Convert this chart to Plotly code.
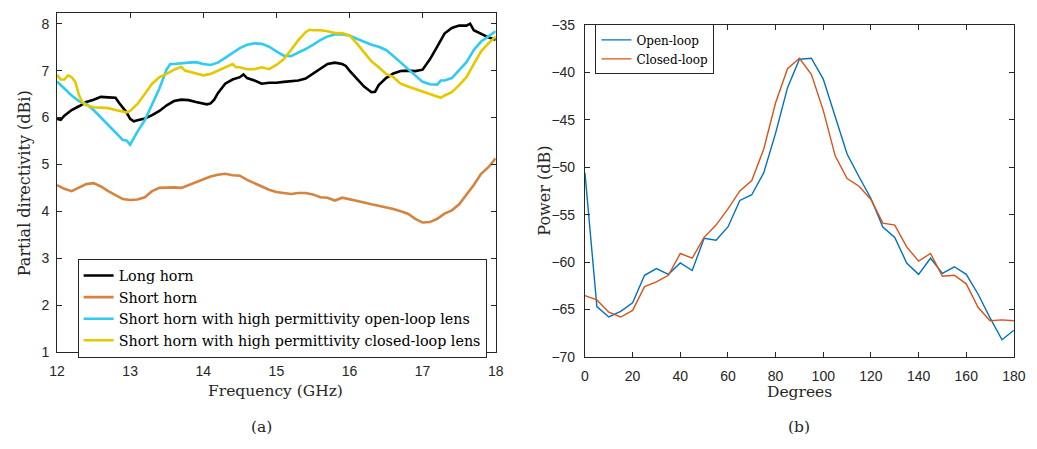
import plotly.graph_objects as go

# ---- (a) partial directivity vs frequency ----
freq_long = [12.0, 12.05, 12.1, 12.2, 12.3, 12.4, 12.5, 12.6, 12.7, 12.8, 12.85, 12.9, 12.95,
             13.0, 13.05, 13.1, 13.2, 13.3, 13.4, 13.5, 13.6, 13.7, 13.8, 13.9, 14.0, 14.05,
             14.1, 14.15, 14.2, 14.3, 14.4, 14.5, 14.55, 14.6, 14.7, 14.8, 14.9, 15.0, 15.1,
             15.2, 15.3, 15.4, 15.5, 15.6, 15.7, 15.8, 15.9, 15.95, 16.0, 16.1, 16.2, 16.3,
             16.35, 16.4, 16.5, 16.6, 16.7, 16.8, 16.9, 17.0, 17.05, 17.1, 17.2, 17.3, 17.4,
             17.5, 17.6, 17.65, 17.7, 17.8, 17.9, 18.0]
long_horn = [5.97, 5.95, 6.04, 6.16, 6.24, 6.33, 6.38, 6.44, 6.43, 6.42, 6.31, 6.21, 6.11,
             5.97, 5.92, 5.94, 5.98, 6.05, 6.14, 6.26, 6.35, 6.38, 6.37, 6.33, 6.29, 6.28,
             6.30, 6.38, 6.52, 6.72, 6.81, 6.86, 6.92, 6.84, 6.79, 6.72, 6.74, 6.74, 6.76,
             6.78, 6.79, 6.83, 6.93, 7.03, 7.14, 7.17, 7.14, 7.10, 7.00, 6.83, 6.66, 6.54,
             6.55, 6.69, 6.84, 6.94, 6.99, 7.00, 6.99, 7.02, 7.14, 7.24, 7.51, 7.79, 7.91,
             7.96, 7.96, 8.00, 7.86, 7.79, 7.71, 7.66]

freq_short = [12.0, 12.1, 12.2, 12.3, 12.4, 12.5, 12.6, 12.7, 12.8, 12.9, 13.0, 13.1, 13.2,
              13.3, 13.4, 13.5, 13.6, 13.7, 13.8, 13.9, 14.0, 14.1, 14.2, 14.3, 14.4, 14.5,
              14.6, 14.7, 14.8, 14.9, 15.0, 15.1, 15.2, 15.3, 15.4, 15.5, 15.6, 15.7, 15.8,
              15.9, 16.0, 16.1, 16.2, 16.3, 16.4, 16.5, 16.6, 16.7, 16.8, 16.9, 17.0, 17.1,
              17.2, 17.3, 17.4, 17.5, 17.6, 17.7, 17.8, 17.9, 18.0]
short_horn = [4.56, 4.48, 4.43, 4.50, 4.58, 4.60, 4.53, 4.43, 4.34, 4.26, 4.24, 4.25, 4.30,
              4.43, 4.50, 4.51, 4.51, 4.50, 4.56, 4.62, 4.69, 4.74, 4.78, 4.80, 4.77, 4.76,
              4.67, 4.60, 4.53, 4.46, 4.41, 4.39, 4.37, 4.39, 4.39, 4.36, 4.30, 4.29, 4.23,
              4.29, 4.26, 4.23, 4.19, 4.15, 4.12, 4.08, 4.05, 4.00, 3.95, 3.84, 3.76, 3.77,
              3.84, 3.95, 4.02, 4.15, 4.36, 4.56, 4.80, 4.94, 5.13]

freq_open = [12.0, 12.1, 12.2, 12.3, 12.4, 12.5, 12.6, 12.7, 12.8, 12.9, 12.95, 13.0, 13.05,
             13.1, 13.2, 13.3, 13.4, 13.5, 13.55, 13.6, 13.7, 13.8, 13.9, 14.0, 14.1, 14.2,
             14.3, 14.4, 14.5, 14.6, 14.7, 14.8, 14.9, 15.0, 15.1, 15.2, 15.3, 15.4, 15.5,
             15.6, 15.7, 15.8, 15.9, 16.0, 16.1, 16.2, 16.3, 16.4, 16.5, 16.6, 16.7, 16.8,
             16.9, 17.0, 17.1, 17.2, 17.25, 17.3, 17.4, 17.5, 17.6, 17.7, 17.8, 17.9, 18.0]
open_lens = [6.77, 6.62, 6.47, 6.35, 6.29, 6.16, 6.00, 5.83, 5.66, 5.52, 5.51, 5.42, 5.56,
             5.70, 5.94, 6.28, 6.62, 7.03, 7.14, 7.14, 7.16, 7.17, 7.18, 7.14, 7.12, 7.17,
             7.27, 7.38, 7.48, 7.55, 7.58, 7.57, 7.51, 7.41, 7.32, 7.31, 7.38, 7.46, 7.55,
             7.65, 7.73, 7.77, 7.77, 7.75, 7.68, 7.62, 7.55, 7.51, 7.44, 7.31, 7.17, 7.03,
             6.90, 6.76, 6.71, 6.70, 6.79, 6.79, 6.84, 7.00, 7.18, 7.44, 7.62, 7.73, 7.84]

freq_closed = [12.0, 12.05, 12.1, 12.15, 12.2, 12.25, 12.3, 12.35, 12.4, 12.5, 12.6, 12.7,
               12.8, 12.9, 12.95, 13.0, 13.1, 13.2, 13.3, 13.4, 13.5, 13.6, 13.7, 13.75,
               13.8, 13.9, 14.0, 14.1, 14.2, 14.3, 14.4, 14.45, 14.5, 14.6, 14.7, 14.8, 14.9,
               15.0, 15.1, 15.2, 15.3, 15.4, 15.45, 15.5, 15.6, 15.7, 15.8, 15.9, 16.0, 16.1,
               16.2, 16.3, 16.4, 16.5, 16.6, 16.7, 16.8, 16.9, 17.0, 17.1, 17.2, 17.25, 17.3,
               17.4, 17.5, 17.6, 17.7, 17.8, 17.9, 18.0]
closed_lens = [6.91, 6.81, 6.81, 6.90, 6.86, 6.76, 6.48, 6.31, 6.26, 6.22, 6.21, 6.20,
               6.16, 6.13, 6.11, 6.14, 6.29, 6.50, 6.72, 6.86, 6.93, 7.02, 7.08, 7.00,
               6.98, 6.93, 6.90, 6.93, 7.00, 7.07, 7.14, 7.07, 7.07, 7.03, 7.03, 7.07, 7.03,
               7.12, 7.24, 7.44, 7.65, 7.82, 7.87, 7.86, 7.86, 7.84, 7.80, 7.80, 7.75, 7.58,
               7.38, 7.20, 7.07, 6.93, 6.86, 6.72, 6.66, 6.61, 6.55, 6.50, 6.45, 6.42, 6.47,
               6.54, 6.69, 6.86, 7.14, 7.41, 7.58, 7.73]

# ---- (b) received power vs angle ----
degrees = list(range(0, 181, 5))
open_loop = [-50.6, -64.7, -65.8, -65.2, -64.3, -61.4, -60.7, -61.3, -60.1, -60.9, -57.5,
             -57.7, -56.3, -53.5, -52.9, -50.6, -46.4, -41.6, -38.6, -38.5, -40.7, -44.6,
             -48.6, -51.0, -53.3, -56.3, -57.4, -60.1, -61.3, -59.6, -61.2, -60.5, -61.3,
             -63.4, -65.9, -68.2, -67.2]
closed_loop = [-63.55, -64.0, -65.3, -65.8, -65.1, -62.6, -62.1, -61.4, -59.1, -59.6, -57.4,
               -56.1, -54.4, -52.5, -51.4, -48.1, -43.2, -39.6, -38.5, -40.2, -44.0, -48.8,
               -51.2, -52.0, -53.4, -55.9, -56.1, -58.4, -59.9, -59.1, -61.5, -61.4, -62.3,
               -64.8, -66.2, -66.1, -66.2]

W, H = 1037, 449
SERIF = "DejaVu Serif, Liberation Serif, serif"
SANS = "Liberation Sans, Arial, sans-serif"
AX = "#262626"

fig = go.Figure()

left_series = [
    (freq_long, long_horn, "Long horn", "#000000"),
    (freq_short, short_horn, "Short horn", "#D4843F"),
    (freq_open, open_lens, "Short horn with high permittivity open-loop lens", "#2FCBF0"),
    (freq_closed, closed_lens, "Short horn with high permittivity closed-loop lens", "#E5C800"),
]
for fx, fy, name, col in left_series:
    fig.add_trace(go.Scatter(x=fx, y=fy, name=name, mode="lines",
                             line=dict(color=col, width=2.6),
                             xaxis="x", yaxis="y", legend="legend"))

fig.add_trace(go.Scatter(x=degrees, y=open_loop, name="Open-loop", mode="lines",
                         line=dict(color="#0072BD", width=1.4),
                         xaxis="x2", yaxis="y2", legend="legend2"))
fig.add_trace(go.Scatter(x=degrees, y=closed_loop, name="Closed-loop", mode="lines",
                         line=dict(color="#D95319", width=1.4),
                         xaxis="x2", yaxis="y2", legend="legend2"))


def px_x(p):
    return p / W


def px_y(p):
    return (H - p) / H


def axis_style(standoff):
    return dict(showline=True, mirror="ticks", linecolor=AX, linewidth=1,
                ticks="inside", ticklen=5, tickcolor=AX, tickwidth=1,
                showgrid=False, zeroline=False, ticklabelstandoff=standoff,
                tickfont=dict(family=SANS, size=14, color=AX))


fig.update_layout(
    width=W, height=H,
    margin=dict(l=0, r=0, t=0, b=0),
    paper_bgcolor="white", plot_bgcolor="white",
    xaxis=dict(domain=[px_x(50), px_x(497.3)], range=[12, 18], dtick=1,
               anchor="y", **axis_style(6)),
    yaxis=dict(domain=[px_y(356.7), px_y(5.3)], range=[1, 8.226], dtick=1,
               anchor="x", **axis_style(4)),
    xaxis2=dict(domain=[px_x(588.3), px_x(1025.7)], range=[0, 180], dtick=20,
                anchor="y2", **axis_style(6)),
    yaxis2=dict(domain=[px_y(361.7), px_y(17.7)], range=[-70, -35], dtick=5,
                anchor="x2", **axis_style(6)),
    legend=dict(x=px_x(71), y=px_y(260), xanchor="left", yanchor="top",
                bgcolor="white", bordercolor=AX, borderwidth=1,
                font=dict(family=SERIF, size=14.3, color="#000000"),
                tracegroupgap=0, itemwidth=30),
    legend2=dict(x=px_x(599), y=px_y(17), xanchor="left", yanchor="top",
                 bgcolor="white", bordercolor=AX, borderwidth=1,
                 font=dict(family=SERIF, size=12, color="#000000"),
                 tracegroupgap=0, itemwidth=30),
    showlegend=True,
)

labels = [
    ("Frequency (GHz)", 273, 397, 0, 15.5),
    ("Partial directivity (dBi)", 17, 182, -90, 16),
    ("Degrees", 807, 398, 0, 15.5),
    ("Power (dB)", 547, 189, -90, 16),
    ("(a)", 258, 435, 0, 15.5),
    ("(b)", 807, 435, 0, 15.5),
]
for text, cx, cy, ang, size in labels:
    fig.add_annotation(text=text, x=px_x(cx), y=px_y(cy), xref="paper", yref="paper",
                       xanchor="center", yanchor="middle", showarrow=False,
                       textangle=ang, font=dict(family=SERIF, size=size, color=AX))

fig.write_html("out.html")
